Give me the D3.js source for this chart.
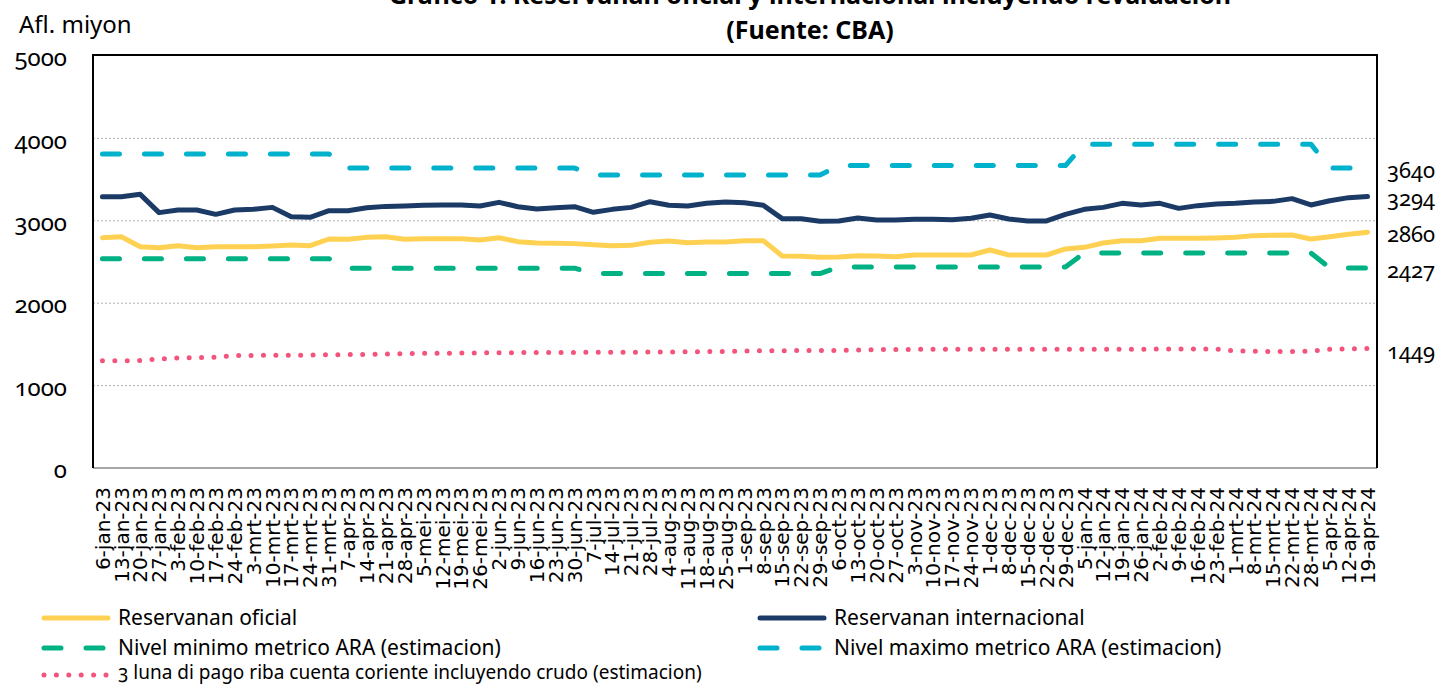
<html>
<head>
    <style>
        body {
            margin: 0;
            background: #fff;
        }

        svg text {
            font-family: 'Noto Sans', 'Open Sans', sans-serif;
            font-variant-numeric: oldstyle-nums;
            font-feature-settings: 'onum' 1;
            fill: #000;
        }

        svg text.xlabel {
            font-family: 'DejaVu Sans', sans-serif;
            font-variant-numeric: normal;
            font-feature-settings: normal;
        }
    </style>
</head>
<body>
<svg width='1439' height='687'></svg>
<script src='https://cdnjs.cloudflare.com/ajax/libs/d3/7.8.5/d3.min.js'></script>
<script>
    const fechas = [
        '6-jan-23', '13-jan-23', '20-jan-23', '27-jan-23', '3-feb-23', '10-feb-23', '17-feb-23', '24-feb-23',
        '3-mrt-23', '10-mrt-23', '17-mrt-23', '24-mrt-23', '31-mrt-23', '7-apr-23', '14-apr-23', '21-apr-23',
        '28-apr-23', '5-mei-23', '12-mei-23', '19-mei-23', '26-mei-23', '2-jun-23', '9-jun-23', '16-jun-23',
        '23-jun-23', '30-jun-23', '7-jul-23', '14-jul-23', '21-jul-23', '28-jul-23', '4-aug-23', '11-aug-23',
        '18-aug-23', '25-aug-23', '1-sep-23', '8-sep-23', '15-sep-23', '22-sep-23', '29-sep-23', '6-oct-23',
        '13-oct-23', '20-oct-23', '27-oct-23', '3-nov-23', '10-nov-23', '17-nov-23', '24-nov-23', '1-dec-23',
        '8-dec-23', '15-dec-23', '22-dec-23', '29-dec-23', '5-jan-24', '12-jan-24', '19-jan-24', '26-jan-24',
        '2-feb-24', '9-feb-24', '16-feb-24', '23-feb-24', '1-mrt-24', '8-mrt-24', '15-mrt-24', '22-mrt-24',
        '28-mrt-24', '5-apr-24', '12-apr-24', '19-apr-24'
    ];

    const reservaOficial = [
        2795, 2807, 2686, 2674, 2698, 2674, 2686, 2686, 2686, 2694, 2706, 2698, 2779, 2775, 2799, 2807,
        2775, 2783, 2783, 2783, 2767, 2795, 2747, 2731, 2727, 2723, 2710, 2698, 2702, 2739, 2755, 2735,
        2743, 2743, 2759, 2759, 2573, 2569, 2557, 2561, 2577, 2573, 2565, 2585, 2585, 2585, 2585, 2646,
        2585, 2585, 2585, 2658, 2678, 2731, 2759, 2759, 2787, 2787, 2787, 2791, 2799, 2820, 2824, 2828,
        2779, 2807, 2836, 2860
    ];

    const reservaInternacional = [
        3293, 3293, 3321, 3099, 3131, 3131, 3078, 3131, 3139, 3163, 3050, 3042, 3123, 3123, 3159, 3175,
        3180, 3188, 3192, 3192, 3180, 3224, 3171, 3143, 3159, 3171, 3103, 3139, 3163, 3232, 3188, 3180,
        3212, 3228, 3220, 3188, 3026, 3026, 2994, 2997, 3034, 3010, 3010, 3018, 3018, 3014, 3032, 3070,
        3022, 2998, 2998, 3078, 3139, 3163, 3212, 3192, 3212, 3151, 3184, 3204, 3212, 3228, 3236, 3269,
        3192, 3244, 3281, 3294
    ];

    const nivelMinimo = [
        2540, 2540, 2540, 2540, 2540, 2540, 2540, 2540, 2540, 2540, 2540, 2540, 2540, 2425, 2425, 2425,
        2425, 2425, 2425, 2425, 2425, 2425, 2425, 2425, 2425, 2425, 2360, 2360, 2360, 2360, 2360, 2360,
        2360, 2360, 2360, 2360, 2360, 2360, 2360, 2440, 2440, 2440, 2440, 2440, 2440, 2440, 2440, 2440,
        2440, 2440, 2440, 2440, 2610, 2610, 2610, 2610, 2610, 2610, 2610, 2610, 2610, 2610, 2610, 2610,
        2610, 2427, 2427, 2427
    ];

    const nivelMaximo = [
        3810, 3810, 3810, 3810, 3810, 3810, 3810, 3810, 3810, 3810, 3810, 3810, 3810, 3640, 3640, 3640,
        3640, 3640, 3640, 3640, 3640, 3640, 3640, 3640, 3640, 3640, 3555, 3555, 3555, 3555, 3555, 3555,
        3555, 3555, 3555, 3555, 3555, 3555, 3555, 3670, 3670, 3670, 3670, 3670, 3670, 3670, 3670, 3670,
        3670, 3670, 3670, 3670, 3930, 3930, 3930, 3930, 3930, 3930, 3930, 3930, 3930, 3930, 3930, 3930,
        3930, 3640, 3640, 3640
    ];

    const lunaPago = [
        1302, 1302, 1305, 1322, 1335, 1338, 1345, 1365, 1367, 1367, 1368, 1370, 1375, 1376, 1378, 1382,
        1388, 1392, 1393, 1395, 1397, 1398, 1400, 1401, 1402, 1403, 1404, 1405, 1406, 1407, 1408, 1410,
        1412, 1415, 1420, 1422, 1424, 1425, 1426, 1428, 1432, 1436, 1438, 1440, 1440, 1440, 1440, 1440,
        1441, 1441, 1441, 1441, 1442, 1442, 1442, 1442, 1443, 1443, 1443, 1443, 1420, 1416, 1414, 1415,
        1418, 1440, 1446, 1449
    ];

    const yTicks = [0, 1000, 2000, 3000, 4000, 5000];

    const series = [
        {name: 'Nivel maximo metrico ARA (estimacion)', values: nivelMaximo, color: '#00B2CC', dash: '17 25', width: 5},
        {name: 'Nivel minimo metrico ARA (estimacion)', values: nivelMinimo, color: '#00B283', dash: '17 25', width: 5},
        {name: '3 luna di pago riba cuenta coriente incluyendo crudo (estimacion)', values: lunaPago, color: '#F2547B', dash: '0 12.4', width: 5},
        {name: 'Reservanan oficial', values: reservaOficial, color: '#FFD152', dash: null, width: 5},
        {name: 'Reservanan internacional', values: reservaInternacional, color: '#1B3A66', dash: null, width: 5}
    ];

    const svg = d3.select('svg');
    const plotLeft = 93, plotRight = 1377, plotTop = 55, plotBottom = 468;

    const x = d3.scaleBand().domain(fechas).range([plotLeft, plotRight]);
    const y = d3.scaleLinear().domain([0, 5000]).range([plotBottom, plotTop + 1]);
    const cx = d => x(d) + x.bandwidth() / 2;

    // gridlines
    svg.append('g')
        .selectAll('line')
        .data(yTicks.filter(v => v > 0 && v < 5000))
        .join('line')
        .attr('x1', plotLeft).attr('x2', plotRight)
        .attr('y1', d => y(d)).attr('y2', d => y(d))
        .attr('stroke', '#B0B0B0')
        .attr('stroke-width', 1)
        .attr('stroke-dasharray', '2 2');

    // y axis labels
    const yAxis = svg.append('g')
        .attr('transform', `translate(${plotLeft},0)`)
        .call(d3.axisLeft(y).tickValues(yTicks).tickSize(0).tickPadding(26).tickFormat(d3.format('d')));
    yAxis.attr('font-family', null);
    yAxis.select('.domain').remove();
    yAxis.selectAll('text')
        .attr('dy', '0.4em')
        .style('font-size', '24px')
        .style('font-variant-numeric', 'oldstyle-nums');

    // x axis labels
    const xAxis = svg.append('g')
        .attr('transform', `translate(0,${plotBottom})`)
        .call(d3.axisBottom(x).tickSize(0));
    xAxis.select('.domain').remove();
    xAxis.selectAll('text')
        .attr('class', 'xlabel')
        .attr('transform', 'rotate(-90)')
        .attr('x', -19)
        .attr('y', 0)
        .attr('dy', '0.36em')
        .attr('text-anchor', 'end')
        .style('font-size', '20px');

    // frame
    svg.append('line')
        .attr('x1', plotLeft).attr('x2', plotRight).attr('y1', plotBottom).attr('y2', plotBottom)
        .attr('stroke', '#A6A6A6').attr('stroke-width', 2);
    svg.append('path')
        .attr('d', `M${plotLeft},${plotBottom} V${plotTop} H${plotRight} V${plotBottom}`)
        .attr('fill', 'none')
        .attr('stroke', '#000')
        .attr('stroke-width', 2);

    // lines
    const line = d3.line()
        .x((d, i) => cx(fechas[i]))
        .y(d => y(d));

    series.forEach(s => {
        svg.append('path')
            .datum(s.values)
            .attr('d', line)
            .attr('fill', 'none')
            .attr('stroke', s.color)
            .attr('stroke-width', s.width)
            .attr('stroke-linecap', 'round')
            .attr('stroke-linejoin', 'round')
            .attr('stroke-dasharray', s.dash);
    });

    // end value labels
    const endLabels = [nivelMaximo, reservaInternacional, reservaOficial, nivelMinimo, lunaPago];
    svg.append('g')
        .selectAll('text')
        .data(endLabels)
        .join('text')
        .attr('x', plotRight + 10)
        .attr('y', d => y(d[d.length - 1]))
        .attr('dy', '0.45em')
        .style('font-size', '22px')
        .text(d => d[d.length - 1]);

    // titles (first line sits partly above the page, as in the source)
    svg.append('text')
        .attr('x', 810).attr('y', 4)
        .attr('text-anchor', 'middle')
        .style('font-size', '25px').style('font-weight', 'bold')
        .text('Grafico 1: Reservanan oficial y internacional incluyendo revaluacion');
    svg.append('text')
        .attr('x', 810).attr('y', 39)
        .attr('text-anchor', 'middle')
        .style('font-size', '25px').style('font-weight', 'bold')
        .text('(Fuente: CBA)');
    svg.append('text')
        .attr('x', 19).attr('y', 33)
        .style('font-size', '24px')
        .text('Afl. miyon');

    // legend
    const legendItems = [
        {s: series[3], lx: 42, ly: 618},
        {s: series[4], lx: 758, ly: 618},
        {s: series[1], lx: 42, ly: 648},
        {s: series[0], lx: 758, ly: 648},
        {s: series[2], lx: 42, ly: 675}
    ];

    legendItems.forEach(({s, lx, ly}) => {
        const dotted = s.dash === '0 12.4';
        svg.append('line')
            .attr('x1', lx + 2).attr('x2', dotted ? lx + 65 : lx + 66)
            .attr('y1', ly).attr('y2', ly)
            .attr('stroke', s.color)
            .attr('stroke-width', s.width)
            .attr('stroke-linecap', 'round')
            .attr('stroke-dasharray', s.dash);
        svg.append('text')
            .attr('x', lx + 76).attr('y', dotted ? ly + 4 : ly)
            .attr('dy', dotted ? '0' : '0.33em')
            .style('font-size', dotted ? '19px' : '21px')
            .text(s.name);
    });
</script>
</body>
</html>
